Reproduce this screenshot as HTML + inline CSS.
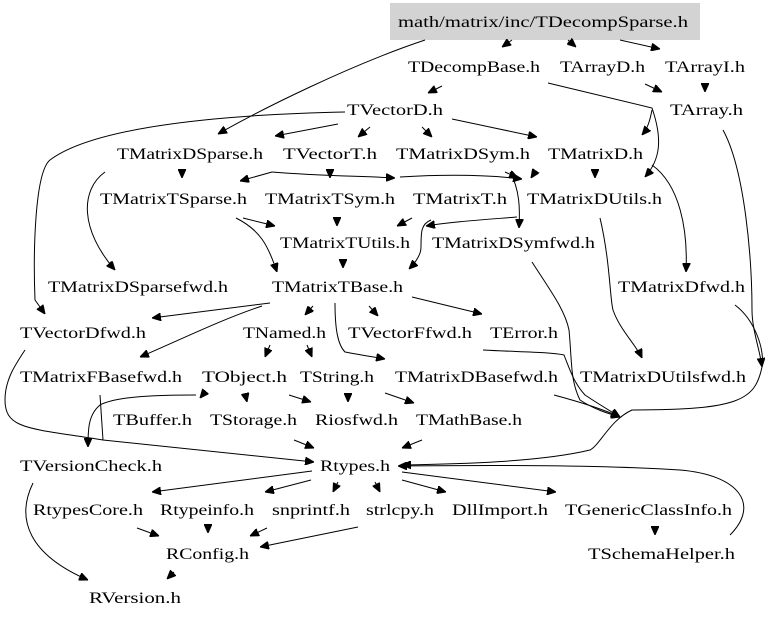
<!DOCTYPE html>
<html><head><meta charset="utf-8"><style>
html,body{margin:0;padding:0;background:#fff;}
svg{display:block;}
text{font-family:"Liberation Serif",serif;font-size:16px;fill:#000;}
path{fill:none;stroke:#000;stroke-width:1;}
</style></head><body>
<svg width="768" height="621" viewBox="0 0 768 621" xmlns="http://www.w3.org/2000/svg">
<defs>
<marker id="a" markerWidth="9" markerHeight="8" refX="9" refY="4" orient="auto" markerUnits="userSpaceOnUse">
<path d="M0,0 L9,4 L0,8 Z" style="fill:#000;stroke:#000"/>
</marker>
</defs>
<rect x="390" y="3" width="310" height="37" fill="#d3d3d3"/>
<g marker-end="url(#a)">
<path d="M425,40 C350,65 260,110 218,134"/>
<path d="M512,40 L502,47"/>
<path d="M568,40 L576,47"/>
<path d="M620,40 L660,49"/>
<path d="M442,86 L428,93"/>
<path d="M548,83 L652,108 C663,140 660,160 645,177"/>
<path d="M652,110 C650,120 648,128 642,135"/>
<path d="M645,84 L662,92"/>
<path d="M705,84 L705,92"/>
<path d="M345,112 C200,115 90,130 50,160 C35,172 33,250 35,300 L45,314"/>
<path d="M338,124 L275,136"/>
<path d="M370,127 L358,137"/>
<path d="M422,127 L432,137"/>
<path d="M452,119 L537,137"/>
<path d="M182,170 L182,178"/>
<path d="M105,172 C80,190 80,230 115,270"/>
<path d="M272,172 L240,181"/>
<path d="M272,172 C320,176 360,176 395,178"/>
<path d="M400,177 C450,174 490,175 522,179"/>
<path d="M330,170 L330,178"/>
<path d="M505,172 L518,178"/>
<path d="M535,172 L531,178"/>
<path d="M595,170 L595,178"/>
<path d="M652,165 C680,185 688,230 686,272"/>
<path d="M510,172 C520,190 520,210 519,228"/>
<path d="M243,218 L275,226"/>
<path d="M236,218 C260,230 268,245 277,272"/>
<path d="M337,218 L337,226"/>
<path d="M412,218 L397,226"/>
<path d="M431,220 C421,224 421,232 421,247 C421,255 415,263 409,269"/>
<path d="M517,217 C480,220 450,222 426,226"/>
<path d="M343,260 L343,268"/>
<path d="M600,218 C610,260 610,300 613,310 C620,330 636,345 642,358"/>
<path d="M270,303 L152,318"/>
<path d="M262,306 C220,320 180,340 140,357"/>
<path d="M313,306 L305,315"/>
<path d="M335,303 C335,330 338,345 345,352 C360,355 375,357 385,359"/>
<path d="M369,306 L378,316"/>
<path d="M412,297 L482,314"/>
<path d="M270,345 L265,357"/>
<path d="M307,345 L312,357"/>
<path d="M196,395 C150,395 115,397 100,405 C88,415 88,430 88,447"/>
<path d="M205,392 L200,398"/>
<path d="M245,393 L247,402"/>
<path d="M289,395 L311,402"/>
<path d="M348,395 L348,402"/>
<path d="M385,393 L414,403"/>
<path d="M294,440 L314,448"/>
<path d="M422,440 L402,448"/>
<path d="M25,350 C15,365 5,380 5,400 C5,430 30,428 103,440 L314,462"/>
<path d="M735,305 C755,320 765,350 762,367 C755,400 740,410 632,410 C610,420 600,445 590,450 C540,462 460,464 402,465"/>
<path d="M723,130 C745,170 752,260 752,310 C752,330 760,350 762,367"/>
<path d="M532,262 C550,290 565,310 569,330 C572,360 570,380 580,400 C595,410 610,414 620,417"/>
<path d="M483,350 C520,352 550,352 564,355 C570,370 574,383 585,395 C600,405 612,412 620,417"/>
<path d="M554,395 C580,402 605,410 620,417"/>
<path d="M730,535 C760,505 740,475 680,470 C600,465 500,465 398,466"/>
<path d="M312,471 L152,492"/>
<path d="M311,480 L265,492"/>
<path d="M338,482 L333,492"/>
<path d="M375,482 L380,492"/>
<path d="M402,480 L446,492"/>
<path d="M402,472 L556,492"/>
<path d="M137,528 L159,536"/>
<path d="M208,525 L208,533"/>
<path d="M267,528 L250,536"/>
<path d="M358,527 L260,547"/>
<path d="M655,527 L655,535"/>
<path d="M33,483 C15,520 30,555 88,580"/>
<path d="M174,572 L167,579"/>
</g>
<path d="M100,395 L103,440"/>
<g>
<text x="398" y="27" textLength="290" lengthAdjust="spacingAndGlyphs">math/matrix/inc/TDecompSparse.h</text>
<text x="408" y="72" textLength="132" lengthAdjust="spacingAndGlyphs">TDecompBase.h</text>
<text x="560" y="72" textLength="85" lengthAdjust="spacingAndGlyphs">TArrayD.h</text>
<text x="665" y="72" textLength="80" lengthAdjust="spacingAndGlyphs">TArrayI.h</text>
<text x="347" y="115" textLength="96" lengthAdjust="spacingAndGlyphs">TVectorD.h</text>
<text x="670" y="115" textLength="73" lengthAdjust="spacingAndGlyphs">TArray.h</text>
<text x="117" y="159" textLength="146" lengthAdjust="spacingAndGlyphs">TMatrixDSparse.h</text>
<text x="283" y="159" textLength="94" lengthAdjust="spacingAndGlyphs">TVectorT.h</text>
<text x="396" y="159" textLength="134" lengthAdjust="spacingAndGlyphs">TMatrixDSym.h</text>
<text x="548" y="159" textLength="95" lengthAdjust="spacingAndGlyphs">TMatrixD.h</text>
<text x="100" y="204" textLength="147" lengthAdjust="spacingAndGlyphs">TMatrixTSparse.h</text>
<text x="265" y="204" textLength="130" lengthAdjust="spacingAndGlyphs">TMatrixTSym.h</text>
<text x="413" y="204" textLength="94" lengthAdjust="spacingAndGlyphs">TMatrixT.h</text>
<text x="527" y="204" textLength="135" lengthAdjust="spacingAndGlyphs">TMatrixDUtils.h</text>
<text x="280" y="248" textLength="130" lengthAdjust="spacingAndGlyphs">TMatrixTUtils.h</text>
<text x="432" y="248" textLength="163" lengthAdjust="spacingAndGlyphs">TMatrixDSymfwd.h</text>
<text x="48" y="292" textLength="180" lengthAdjust="spacingAndGlyphs">TMatrixDSparsefwd.h</text>
<text x="272" y="292" textLength="131" lengthAdjust="spacingAndGlyphs">TMatrixTBase.h</text>
<text x="618" y="292" textLength="127" lengthAdjust="spacingAndGlyphs">TMatrixDfwd.h</text>
<text x="20" y="338" textLength="126" lengthAdjust="spacingAndGlyphs">TVectorDfwd.h</text>
<text x="243" y="338" textLength="83" lengthAdjust="spacingAndGlyphs">TNamed.h</text>
<text x="348" y="338" textLength="124" lengthAdjust="spacingAndGlyphs">TVectorFfwd.h</text>
<text x="490" y="338" textLength="68" lengthAdjust="spacingAndGlyphs">TError.h</text>
<text x="20" y="382" textLength="162" lengthAdjust="spacingAndGlyphs">TMatrixFBasefwd.h</text>
<text x="202" y="382" textLength="85" lengthAdjust="spacingAndGlyphs">TObject.h</text>
<text x="300" y="382" textLength="74" lengthAdjust="spacingAndGlyphs">TString.h</text>
<text x="395" y="382" textLength="163" lengthAdjust="spacingAndGlyphs">TMatrixDBasefwd.h</text>
<text x="580" y="382" textLength="166" lengthAdjust="spacingAndGlyphs">TMatrixDUtilsfwd.h</text>
<text x="113" y="425" textLength="79" lengthAdjust="spacingAndGlyphs">TBuffer.h</text>
<text x="210" y="425" textLength="87" lengthAdjust="spacingAndGlyphs">TStorage.h</text>
<text x="315" y="425" textLength="83" lengthAdjust="spacingAndGlyphs">Riosfwd.h</text>
<text x="416" y="425" textLength="106" lengthAdjust="spacingAndGlyphs">TMathBase.h</text>
<text x="20" y="471" textLength="142" lengthAdjust="spacingAndGlyphs">TVersionCheck.h</text>
<text x="320" y="471" textLength="70" lengthAdjust="spacingAndGlyphs">Rtypes.h</text>
<text x="33" y="515" textLength="110" lengthAdjust="spacingAndGlyphs">RtypesCore.h</text>
<text x="160" y="515" textLength="94" lengthAdjust="spacingAndGlyphs">Rtypeinfo.h</text>
<text x="272" y="515" textLength="78" lengthAdjust="spacingAndGlyphs">snprintf.h</text>
<text x="366" y="515" textLength="68" lengthAdjust="spacingAndGlyphs">strlcpy.h</text>
<text x="452" y="515" textLength="96" lengthAdjust="spacingAndGlyphs">DllImport.h</text>
<text x="565" y="515" textLength="167" lengthAdjust="spacingAndGlyphs">TGenericClassInfo.h</text>
<text x="166" y="559" textLength="83" lengthAdjust="spacingAndGlyphs">RConfig.h</text>
<text x="588" y="559" textLength="147" lengthAdjust="spacingAndGlyphs">TSchemaHelper.h</text>
<text x="89" y="603" textLength="92" lengthAdjust="spacingAndGlyphs">RVersion.h</text>
</g>
</svg>
</body></html>
